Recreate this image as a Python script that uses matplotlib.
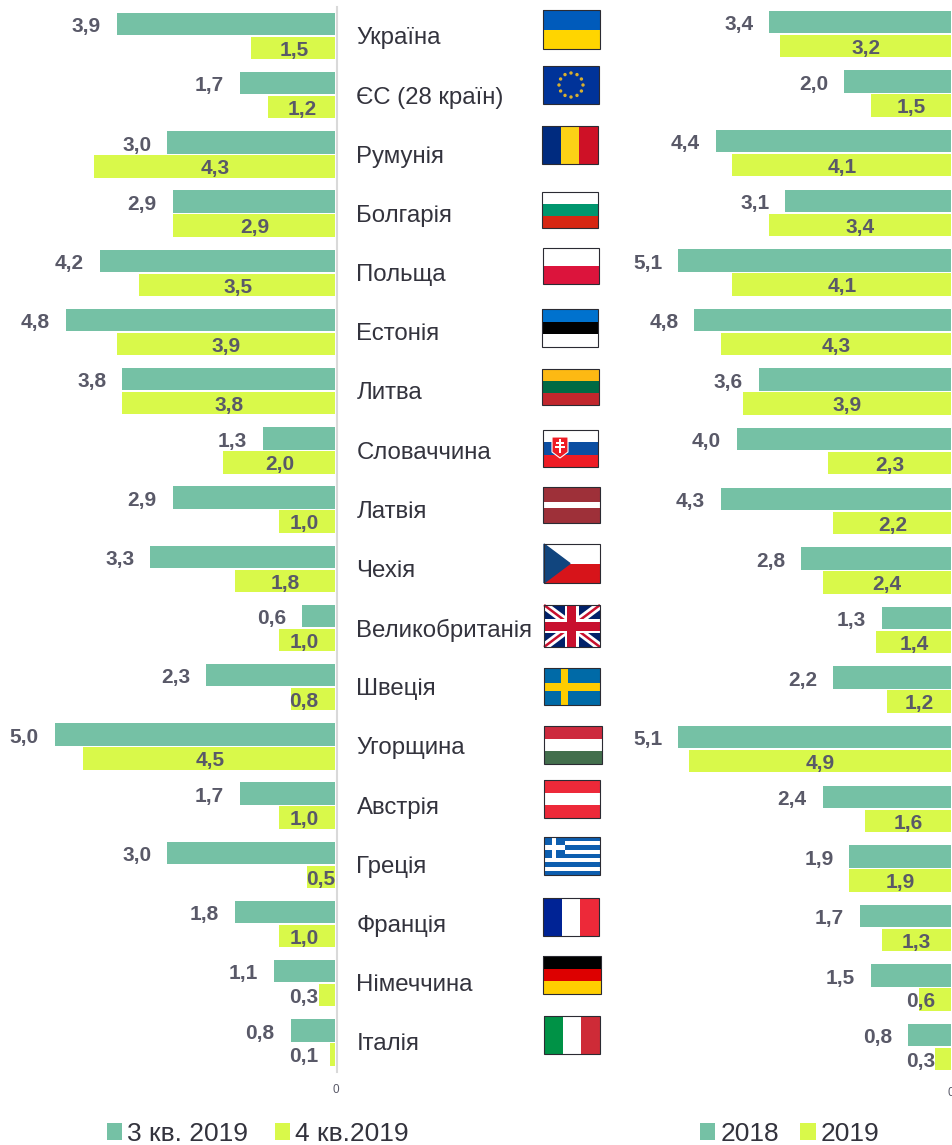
import numpy as np
import matplotlib
matplotlib.use("Agg")
import matplotlib.pyplot as plt
from matplotlib.patches import Rectangle, Polygon, Circle

countries = ["Україна", "ЄС (28 країн)", "Румунія", "Болгарія", "Польща", "Естонія", "Литва",
             "Словаччина", "Латвія", "Чехія", "Великобританія", "Швеція", "Угорщина", "Австрія",
             "Греція", "Франція", "Німеччина", "Італія"]
q3_2019 = [3.9, 1.7, 3.0, 2.9, 4.2, 4.8, 3.8, 1.3, 2.9, 3.3, 0.6, 2.3, 5.0, 1.7, 3.0, 1.8, 1.1, 0.8]
q4_2019 = [1.5, 1.2, 4.3, 2.9, 3.5, 3.9, 3.8, 2.0, 1.0, 1.8, 1.0, 0.8, 4.5, 1.0, 0.5, 1.0, 0.3, 0.1]
y2018 = [3.4, 2.0, 4.4, 3.1, 5.1, 4.8, 3.6, 4.0, 4.3, 2.8, 1.3, 2.2, 5.1, 2.4, 1.9, 1.7, 1.5, 0.8]
y2019 = [3.2, 1.5, 4.1, 3.4, 4.1, 4.3, 3.9, 2.3, 2.2, 2.4, 1.4, 1.2, 4.9, 1.6, 1.9, 1.3, 0.6, 0.3]
legend_left = ["3 кв. 2019", "4 кв.2019"]
legend_right = ["2018", "2019"]

GREEN = "#75C1A5"
YELLOW = "#D9F94A"
LABEL = "#595968"
TEXT = "#33333D"
plt.rcParams["font.family"] = ["Liberation Sans", "DejaVu Sans"]

W, H = 953, 1145
fig = plt.figure(figsize=(W / 100, H / 100), dpi=100)


def make_axes(x0, x1, ytop, ybot):
    return fig.add_axes([x0 / W, 1 - ybot / H, (x1 - x0) / W, (ybot - ytop) / H])


def panel(x_zero, px_per_unit, y_first, pitch, a, b, small_px, tick_pad, show_line):
    top, bot = 4, 1074
    x_left = 0 if x_zero < 500 else 610
    ax = make_axes(x_left, x_zero, top, bot)
    ax.set_xlim(-(x_zero - x_left) / px_per_unit, 0)
    ax.set_ylim((bot - y_first) / pitch, (top - y_first) / pitch)
    ax.patch.set_alpha(0)
    idx = np.arange(len(a))
    h = 22.5 / pitch
    off = 12 / pitch
    ax.barh(idx - off, -np.array(a), height=h, color=GREEN)
    ax.barh(idx + off, -np.array(b), height=h, color=YELLOW)
    for i, (va, vb) in enumerate(zip(a, b)):
        ax.annotate(f"{va:.1f}".replace(".", ","), (-va, i - off), xytext=(-16 * 0.72, -2),
                    textcoords="offset points", ha="right", va="center",
                    fontsize=15, fontweight="bold", color=LABEL)
        xc = min(-vb / 2, -small_px / px_per_unit)
        if vb == 0.5 and x_zero < 500:
            xc = -15 / px_per_unit
        ax.annotate(f"{vb:.1f}".replace(".", ","), (xc, i + off), xytext=(0.3, -1.6),
                    textcoords="offset points", ha="center", va="center",
                    fontsize=15, fontweight="bold", color=LABEL)
    for s in ax.spines.values():
        s.set_visible(False)
    if show_line:
        sp = ax.spines["right"]
        sp.set_visible(True)
        sp.set_color("#D9D9D9")
        sp.set_linewidth(1.5)
        sp.set_position(("outward", 0.8))
        sp.set_bounds((1072 - y_first) / pitch, (7 - y_first) / pitch)
    ax.set_yticks([])
    ax.set_xticks([0])
    ax.set_xticklabels(["0"], fontsize=8.5, color=LABEL)
    ax.tick_params(axis="x", length=0, pad=tick_pad)
    return ax


ax_l = panel(335.5, 56.1, 36, 59.2, q3_2019, q4_2019, 32, 7, True)
ax_r = panel(951, 53.45, 34, 59.6, y2018, y2019, 31, 9.5, False)

# overlay in pixel coordinates for country names and flags
ov = fig.add_axes([0, 0, 1, 1], zorder=5)
ov.set_xlim(0, W)
ov.set_ylim(H, 0)
ov.axis("off")
ov.patch.set_alpha(0)

name_y = [36, 96, 155, 214, 273, 332, 391, 451, 510, 569, 628, 687, 746, 806, 865, 924, 983, 1042]
for n, y in zip(countries, name_y):
    ov.text(356.5, y + 2, n, fontsize=17.3, color=TEXT, ha="left", va="center")

flag_box = [(543, 10, 600, 49), (543, 66, 599, 104), (542, 126, 598, 164), (542, 192, 598, 228),
            (543, 248, 599, 284), (542, 309, 598, 347), (542, 369, 599, 405), (543, 430, 598, 467),
            (543, 487, 600, 523), (544, 544, 600, 583), (544, 605, 600, 647), (544, 668, 600, 705),
            (544, 726, 602, 764), (544, 780, 600, 818), (544, 837, 600, 875), (543, 898, 599, 936),
            (543, 956, 601, 994), (544, 1016, 600, 1054)]


def rect(x0, y0, x1, y1, c, z=6):
    ov.add_patch(Rectangle((x0, y0), x1 - x0, y1 - y0, facecolor=c, edgecolor="none", zorder=z))


def hstripes(b, cols):
    x0, y0, x1, y1 = b
    n = len(cols)
    for i, c in enumerate(cols):
        rect(x0, y0 + (y1 - y0) * i / n, x1, y0 + (y1 - y0) * (i + 1) / n, c)


def vstripes(b, cols):
    x0, y0, x1, y1 = b
    n = len(cols)
    for i, c in enumerate(cols):
        rect(x0 + (x1 - x0) * i / n, y0, x0 + (x1 - x0) * (i + 1) / n, y1, c)


def border(b, c="#2B2B33", lw=0.8):
    x0, y0, x1, y1 = b
    ov.add_patch(Rectangle((x0, y0), x1 - x0, y1 - y0, facecolor="none", edgecolor=c, linewidth=lw, zorder=9))


def draw_flag(name, b):
    x0, y0, x1, y1 = b
    w, h = x1 - x0, y1 - y0
    cx, cy = (x0 + x1) / 2, (y0 + y1) / 2
    if name == "Україна":
        hstripes(b, ["#005BBB", "#FFD500"])
    elif name.startswith("ЄС"):
        rect(x0, y0, x1, y1, "#003399")
        for a in np.arange(12) * np.pi / 6:
            ov.add_patch(Circle((cx + 12 * np.cos(a), cy + 12 * np.sin(a)), 1.0, color="#D9B030", zorder=7))
    elif name == "Румунія":
        vstripes(b, ["#002B7F", "#FCD116", "#CE1126"])
    elif name == "Болгарія":
        hstripes(b, ["#FFFFFF", "#00966E", "#D62612"])
    elif name == "Польща":
        hstripes(b, ["#FFFFFF", "#DC143C"])
    elif name == "Естонія":
        hstripes(b, ["#0072CE", "#000000", "#FFFFFF"])
    elif name == "Литва":
        hstripes(b, ["#FDB913", "#006A44", "#C1272D"])
    elif name == "Словаччина":
        hstripes(b, ["#FFFFFF", "#0B4EA2", "#EE1C25"])
        ov.add_patch(Polygon([(x0 + 9, y0 + 7), (x0 + 25, y0 + 7), (x0 + 25, y0 + 22), (x0 + 17, y0 + 28),
                              (x0 + 9, y0 + 22)], facecolor="#EE1C25", edgecolor="white", linewidth=0.8, zorder=7))
        rect(x0 + 16, y0 + 9, x0 + 18, y0 + 23, "white", 8)
        rect(x0 + 13, y0 + 12, x0 + 21, y0 + 13.5, "white", 8)
        rect(x0 + 12, y0 + 16, x0 + 22, y0 + 17.5, "white", 8)
    elif name == "Латвія":
        rect(x0, y0, x1, y1, "#9E3039")
        rect(x0, y0 + h * 0.42, x1, y0 + h * 0.58, "white", 7)
    elif name == "Чехія":
        hstripes(b, ["#FFFFFF", "#D7141A"])
        ov.add_patch(Polygon([(x0, y0), (cx - 2, cy), (x0, y1)], color="#11457E", zorder=7))
    elif name == "Великобританія":
        rect(x0, y0, x1, y1, "#012169")
        for pts, c, lw in [([(x0, y0), (x1, y1)], "white", 8), ([(x0, y1), (x1, y0)], "white", 8),
                           ([(x0, y0), (x1, y1)], "#C8102E", 2.5), ([(x0, y1), (x1, y0)], "#C8102E", 2.5)]:
            ov.plot(*zip(*pts), color=c, lw=lw * 0.72, zorder=7, solid_capstyle="butt")
        rect(cx - 7, y0, cx + 7, y1, "white", 7)
        rect(x0, cy - 7, x1, cy + 7, "white", 7)
        rect(cx - 4.5, y0, cx + 4.5, y1, "#C8102E", 8)
        rect(x0, cy - 4.5, x1, cy + 4.5, "#C8102E", 8)
    elif name == "Швеція":
        rect(x0, y0, x1, y1, "#006AA7")
        rect(x0 + 17, y0, x0 + 24, y1, "#FECC00", 7)
        rect(x0, cy - 4, x1, cy + 4, "#FECC00", 7)
    elif name == "Угорщина":
        hstripes(b, ["#CD2A3E", "#FFFFFF", "#436F4D"])
    elif name == "Австрія":
        hstripes(b, ["#ED2939", "#FFFFFF", "#ED2939"])
    elif name == "Греція":
        hstripes(b, ["#0D5EAF" if i % 2 == 0 else "#FFFFFF" for i in range(9)])
        rect(x0, y0, x0 + 21, y0 + h * 5 / 9, "#0D5EAF", 7)
        rect(x0 + 8.5, y0, x0 + 12.5, y0 + h * 5 / 9, "white", 8)
        rect(x0, y0 + h * 2 / 9, x0 + 21, y0 + h * 3 / 9, "white", 8)
    elif name == "Франція":
        vstripes(b, ["#002395", "#FFFFFF", "#ED2939"])
    elif name == "Німеччина":
        hstripes(b, ["#000000", "#DD0000", "#FFCE00"])
    elif name == "Італія":
        vstripes(b, ["#009246", "#FFFFFF", "#CE2B37"])
    border(b)


for n, b in zip(countries, flag_box):
    draw_flag(n, b)


def legend(labels, center_x, spacing):
    hs = [Rectangle((0, 0), 1, 1, facecolor=GREEN), Rectangle((0, 0), 1, 1, facecolor=YELLOW)]
    fig.legend(hs, labels, loc="center", bbox_to_anchor=(center_x / W, 1 - 1134 / H), ncols=2, frameon=False,
               fontsize=19, labelcolor=TEXT, handlelength=0.58, handleheight=0.58, handletextpad=0.2,
               columnspacing=spacing, borderpad=0, borderaxespad=0)


legend(legend_left, 258, 1.0)
legend(legend_right, 790, 0.8)

fig.savefig("out.png", dpi=100)
